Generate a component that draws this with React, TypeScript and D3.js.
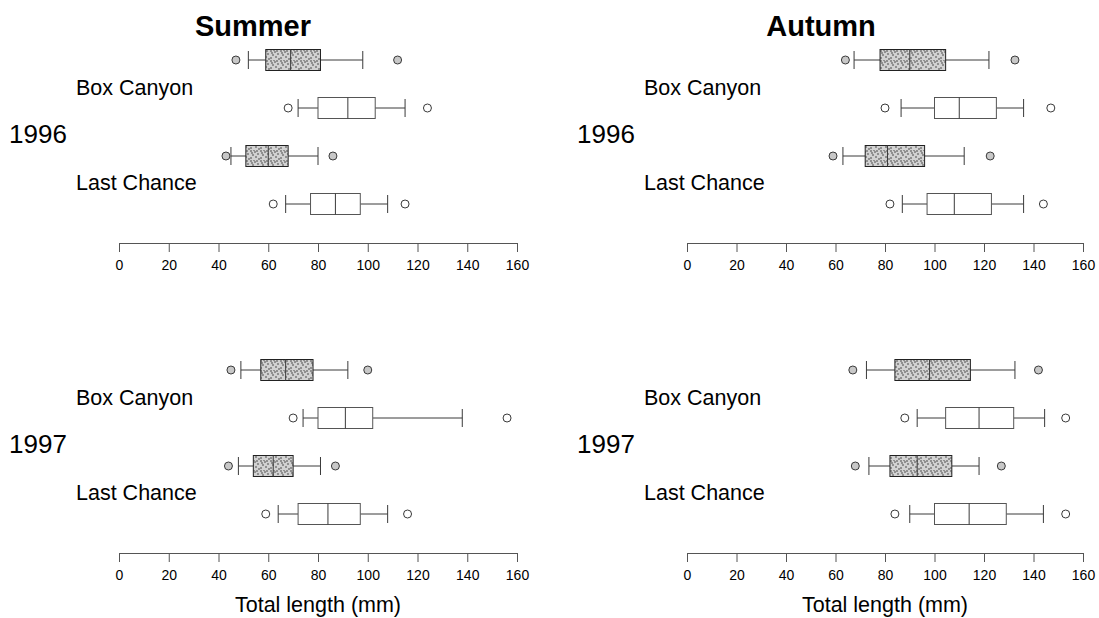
import React, { useEffect, useRef } from 'react';
import * as d3 from 'd3';

// each row: [low outlier, whisker low, Q1, median, Q3, whisker high, high outlier]
const summer1996 = [
  [47, 52, 59, 69, 81, 98, 112],
  [68, 72, 80, 92, 103, 115, 124],
  [43, 45, 51, 60, 68, 80, 86],
  [62, 67, 77, 87, 97, 108, 115],
];
const autumn1996 = [
  [64, 67.5, 78, 90, 104.5, 122, 132.5],
  [80, 86.5, 100, 110, 125, 136, 147],
  [59, 63, 72, 81, 96, 112, 122.5],
  [82, 87, 97, 108, 123, 136, 144],
];
const summer1997 = [
  [45, 49, 57, 67, 78, 92, 100],
  [70, 74, 80, 91, 102, 138, 156],
  [44, 48, 54, 62, 70, 81, 87],
  [59, 64, 72, 84, 97, 108, 116],
];
const autumn1997 = [
  [67, 72.5, 84, 98, 114.5, 132.5, 142],
  [88, 93, 104.5, 118, 132, 144.5, 153],
  [68, 73.5, 82, 93, 107, 118, 127],
  [84, 90, 100, 114, 129, 144, 153],
];

const sites = ['Box Canyon', 'Last Chance'];
const shaded = [true, false, true, false];
const tickValues = [0, 20, 40, 60, 80, 100, 120, 140, 160];
const seasons = ['Summer', 'Autumn'];
const years = ['1996', '1997'];

const font = '"Liberation Sans", Arial, Helvetica, sans-serif';

const panels = [
  { season: 0, year: 0, data: summer1996, x0: 119, x1: 517, axisY: 243 },
  { season: 1, year: 0, data: autumn1996, x0: 687, x1: 1083, axisY: 243 },
  { season: 0, year: 1, data: summer1997, x0: 119, x1: 517, axisY: 553 },
  { season: 1, year: 1, data: autumn1997, x0: 687, x1: 1083, axisY: 553 },
];

const App = () => {
  const ref = useRef<SVGSVGElement>(null);

  useEffect(() => {
    const svg = d3.select(ref.current);
    svg.selectAll('*').remove();

    // stippled fill for the shaded boxes
    const pat = svg.append('defs').append('pattern')
      .attr('id', 'stipple')
      .attr('patternUnits', 'userSpaceOnUse')
      .attr('width', 10)
      .attr('height', 10);
    pat.append('rect').attr('width', 10).attr('height', 10).attr('fill', '#d2d2d2');
    const dots = [[1, 1], [5, 2], [8, 4], [3, 5], [6, 7], [1, 8], [9, 9], [4, 0], [7, 1], [2, 3]];
    pat.selectAll('circle').data(dots).enter().append('circle')
      .attr('cx', d => d[0]).attr('cy', d => d[1]).attr('r', 1).attr('fill', '#7a7a7a');

    panels.forEach(p => {
      const x = d3.scaleLinear().domain([0, 160]).range([p.x0, p.x1]);
      const y = d3.scalePoint<number>()
        .domain([0, 1, 2, 3])
        .range([p.axisY - 183, p.axisY - 39]);
      const g = svg.append('g');

      p.data.forEach((d, i) => {
        const cy = y(i) as number;
        const row = g.append('g').attr('stroke', '#3a3a3a').attr('stroke-width', 1);
        // whiskers
        row.append('line').attr('x1', x(d[1])).attr('x2', x(d[2])).attr('y1', cy).attr('y2', cy);
        row.append('line').attr('x1', x(d[4])).attr('x2', x(d[5])).attr('y1', cy).attr('y2', cy);
        [d[1], d[5]].forEach(v => {
          row.append('line').attr('x1', x(v)).attr('x2', x(v)).attr('y1', cy - 9).attr('y2', cy + 9);
        });
        // box
        row.append('rect')
          .attr('x', x(d[2]))
          .attr('y', cy - 10.5)
          .attr('width', x(d[4]) - x(d[2]))
          .attr('height', 21)
          .attr('fill', shaded[i] ? 'url(#stipple)' : '#fff')
          .attr('stroke', shaded[i] ? '#222' : '#555');
        row.append('line').attr('x1', x(d[3])).attr('x2', x(d[3])).attr('y1', cy - 10.5).attr('y2', cy + 10.5);
        // outliers
        [d[0], d[6]].forEach(v => {
          row.append('circle').attr('cx', x(v)).attr('cy', cy).attr('r', 4)
            .attr('fill', shaded[i] ? '#c8c8c8' : '#fff');
        });
      });

      // axis
      const ax = g.append('g')
        .attr('transform', `translate(0,${p.axisY})`)
        .call(d3.axisBottom(x).tickValues(tickValues).tickSize(9).tickSizeOuter(0).tickPadding(8));
      ax.select('.domain').attr('stroke', '#555');
      ax.selectAll('.tick line').attr('stroke', '#555');
      ax.selectAll('text').attr('font-family', font).attr('font-size', 14).attr('fill', '#000');

      // row labels
      g.append('text').attr('x', p.x0 - 43).attr('y', p.axisY - 148)
        .attr('font-family', font).attr('font-size', 21.5).text(sites[0]);
      g.append('text').attr('x', p.x0 - 43).attr('y', p.axisY - 53)
        .attr('font-family', font).attr('font-size', 21.5).text(sites[1]);
      g.append('text').attr('x', p.x0 - 110).attr('y', p.axisY - 100)
        .attr('font-family', font).attr('font-size', 26).text(years[p.year]);

      if (p.year === 0) {
        g.append('text').attr('x', p.x0 + 134).attr('y', 36)
          .attr('text-anchor', 'middle').attr('font-family', font)
          .attr('font-size', 29).attr('font-weight', 'bold').text(seasons[p.season]);
      } else {
        g.append('text').attr('x', (p.x0 + p.x1) / 2).attr('y', 612)
          .attr('text-anchor', 'middle').attr('font-family', font)
          .attr('font-size', 21.5).text('Total length (mm)');
      }
    });
  }, []);

  return (
    <svg ref={ref} width={1099} height={618}
      style={{ position: 'absolute', left: 0, top: 0, background: '#fff' }} />
  );
};

export default App;
